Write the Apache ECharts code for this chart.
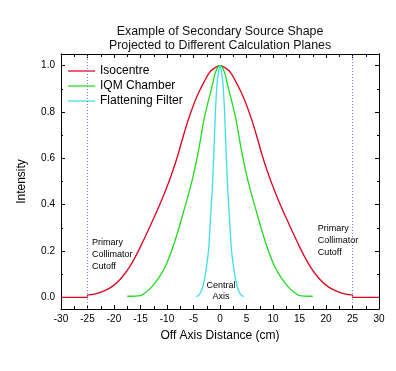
<!DOCTYPE html>
<html>
<head>
<meta charset="utf-8">
<script src="https://cdn.jsdelivr.net/npm/echarts@6/dist/echarts.min.js"></script>
<style>html,body{margin:0;padding:0;background:#fff;}#c{width:396px;height:371px;}</style>
</head>
<body>
<div id="c"></div>
<script>
// ---- data ----
var seriesNames = ['Isocentre', 'IQM Chamber', 'Flattening Filter'];
var isoX = [-30, -25, -25, -24, -23, -22, -21, -20, -19, -18, -17, -16, -15, -14, -13, -12, -11, -10, -9, -8, -7, -6, -5, -4, -3, -2, -1, 0,
            1, 2, 3, 4, 5, 6, 7, 8, 9, 10, 11, 12, 13, 14, 15, 16, 17, 18, 19, 20, 21, 22, 23, 24, 25, 25, 30];
var isoY = [0, 0, 0.009, 0.013, 0.019, 0.027, 0.038, 0.053, 0.074, 0.101, 0.134, 0.174, 0.219, 0.267, 0.317, 0.367, 0.42, 0.477, 0.54, 0.61, 0.69, 0.765, 0.83, 0.885, 0.93, 0.97, 0.99, 1.0,
            0.99, 0.97, 0.93, 0.885, 0.83, 0.765, 0.69, 0.61, 0.54, 0.477, 0.42, 0.367, 0.317, 0.267, 0.219, 0.174, 0.134, 0.101, 0.074, 0.053, 0.038, 0.027, 0.019, 0.013, 0.009, 0, 0];
var iqmX = [-17.5, -15, -14, -13, -12, -11, -10, -9, -8, -7, -6, -5, -4, -3, -2, -1.5, -1, -0.5, 0,
            0.5, 1, 1.5, 2, 3, 4, 5, 6, 7, 8, 9, 10, 11, 12, 13, 14, 15, 17.5];
var iqmY = [0.005, 0.008, 0.022, 0.042, 0.07, 0.105, 0.15, 0.21, 0.28, 0.36, 0.44, 0.53, 0.64, 0.77, 0.865, 0.91, 0.96, 0.99, 1.0,
            0.99, 0.96, 0.91, 0.865, 0.77, 0.64, 0.53, 0.44, 0.36, 0.28, 0.21, 0.15, 0.105, 0.07, 0.042, 0.022, 0.008, 0.005];
var ffX = [-4.5, -4.0, -3.5, -3.0, -2.5, -2.1, -1.8, -1.5, -1.2, -0.9, -0.6, -0.3, 0,
           0.3, 0.6, 0.9, 1.2, 1.5, 1.8, 2.1, 2.5, 3.0, 3.5, 4.0, 4.5];
var ffY = [0.003, 0.01, 0.03, 0.07, 0.14, 0.22, 0.34, 0.45, 0.60, 0.78, 0.91, 0.97, 1.0,
           0.97, 0.91, 0.78, 0.60, 0.45, 0.34, 0.22, 0.14, 0.07, 0.03, 0.01, 0.003];
var cutoffX = [-25, 25];
var yMajorTicks = [0, 0.2, 0.4, 0.6, 0.8, 1.0];
var yMinorTicks = [0.1, 0.3, 0.5, 0.7, 0.9];
var annotationTexts = ['Primary\nCollimator\nCutoff', 'Primary\nCollimator\nCutoff', 'Central\nAxis'];

function zip(xs, ys) { return xs.map(function (x, i) { return [x, ys[i]]; }); }

var FONT = '"Liberation Sans", Arial, sans-serif';
var colors = ['#e2001c', '#1fdc1f', '#38e0e8'];

var chart = echarts.init(document.getElementById('c'), null, { renderer: 'canvas' });

function xAx(pos, labels) {
  return {
    type: 'value', position: pos, min: -30, max: 30, interval: 5,
    axisLine: { show: true, onZero: false, lineStyle: { color: '#000', width: 1 } },
    axisTick: { show: true, inside: true, length: 4, lineStyle: { color: '#000' } },
    minorTick: { show: true, splitNumber: 2, length: 3, lineStyle: { color: '#000' } },
    splitLine: { show: false },
    axisLabel: { show: labels, color: '#000', fontSize: 10, fontFamily: FONT, margin: 5 },
    name: labels ? 'Off Axis Distance (cm)' : '',
    nameLocation: 'middle', nameGap: 21,
    nameTextStyle: { color: '#000', fontSize: 12, fontFamily: FONT }
  };
}
function yAx(pos, ticks, len, labels) {
  return {
    type: 'value', position: pos, min: -0.05, max: 1.05,
    axisLine: { show: true, onZero: false, lineStyle: { color: '#000', width: 1 } },
    axisTick: { show: true, inside: true, length: len, customValues: ticks, lineStyle: { color: '#000' } },
    splitLine: { show: false },
    axisLabel: { show: labels, customValues: ticks, color: '#000', fontSize: 10, fontFamily: FONT, margin: 6,
      formatter: function (v) { return v.toFixed(1); } },
    name: labels ? 'Intensity' : '',
    nameLocation: 'middle', nameGap: 33, nameRotate: 90,
    nameTextStyle: { color: '#000', fontSize: 12, fontFamily: FONT }
  };
}

var annLabel = { show: true, color: '#000', fontSize: 9, fontFamily: FONT, lineHeight: 12 };

chart.setOption({
  animation: false,
  backgroundColor: '#fff',
  title: {
    text: 'Example of Secondary Source Shape\nProjected to Different Calculation Planes',
    left: 215, top: 19, textAlign: 'center',
    textStyle: { color: '#111', fontSize: 12.4, fontWeight: 'normal', fontFamily: FONT, lineHeight: 14.5 }
  },
  grid: { left: 61, right: 17, top: 54, bottom: 62, containLabel: false },
  legend: {
    data: seriesNames, orient: 'vertical', left: 68, top: 65, padding: 0,
    itemWidth: 27, itemHeight: 12, itemGap: 3,
    textStyle: { color: '#000', fontSize: 12, fontFamily: FONT },
    icon: 'path://M0,5 L28,5 L28,6.3 L0,6.3 Z'
  },
  xAxis: [xAx('bottom', true), xAx('top', false)],
  yAxis: [yAx('left', yMajorTicks, 4, true), yAx('left', yMinorTicks, 2, false),
          yAx('right', yMajorTicks, 4, false), yAx('right', yMinorTicks, 2, false)],
  series: [
    {
      name: seriesNames[0], type: 'line', data: zip(isoX, isoY), symbol: 'none', smooth: 0.3,
      lineStyle: { color: colors[0], width: 1.3 }, itemStyle: { color: colors[0] },
      markLine: {
        silent: true, symbol: 'none', label: { show: false },
        lineStyle: { color: '#7c7cd8', type: [1, 2], width: 1 },
        data: cutoffX.map(function (v) { return { xAxis: v }; })
      },
      markPoint: {
        symbol: 'circle', symbolSize: 0, silent: true,
        data: [
          { coord: [-24.15, 0.262], label: Object.assign({}, annLabel, { formatter: annotationTexts[0], position: [0, 0], align: 'left', verticalAlign: 'top' }) },
          { coord: [18.45, 0.322], label: Object.assign({}, annLabel, { formatter: annotationTexts[1], position: [0, 0], align: 'left', verticalAlign: 'top' }) },
          { coord: [0.2, 0.075], label: Object.assign({}, annLabel, { lineHeight: 11, formatter: annotationTexts[2], position: [0, 0], align: 'center', verticalAlign: 'top' }) }
        ]
      }
    },
    {
      name: seriesNames[1], type: 'line', data: zip(iqmX, iqmY), symbol: 'none', smooth: 0.3,
      lineStyle: { color: colors[1], width: 1.3 }, itemStyle: { color: colors[1] }
    },
    {
      name: seriesNames[2], type: 'line', data: zip(ffX, ffY), symbol: 'none', smooth: 0.3,
      lineStyle: { color: colors[2], width: 1.3 }, itemStyle: { color: colors[2] }
    }
  ]
});
</script>
</body>
</html>
